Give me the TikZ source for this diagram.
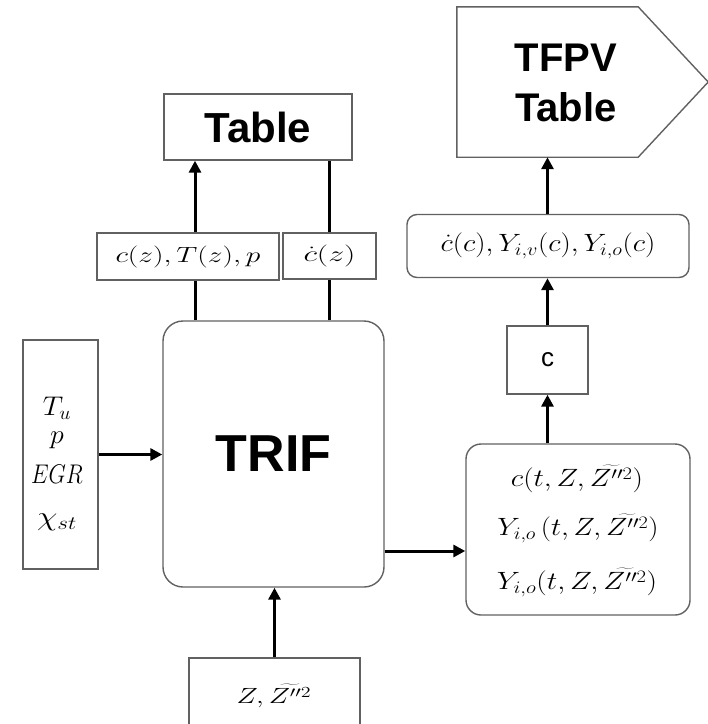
\RequirePackage{fix-cm}
\documentclass[tikz,border=0pt]{standalone}
\usepackage{fontspec}
\usepackage{graphicx}
\usetikzlibrary{arrows.meta}
\newfontfamily\hvfont{Liberation Sans}
\newcommand{\mystretch}[2][1.2]{\scalebox{#1}[1]{#2}}
\tikzset{
  bord/.style={draw=black!62, line width=1.4pt},
  box/.style={bord, rectangle, inner sep=0pt},
  rbox/.style={box, rounded corners=#1},
  arr/.style={draw=black, line width=3pt, -{Triangle[length=12pt,width=12pt]}},
  ln/.style={draw=black, line width=3pt},
  mth/.style={font=\fontsize{#1}{#1}\selectfont, inner sep=0pt},
  bigsans/.style={font=\hvfont\bfseries\fontsize{#1}{#1}\selectfont},
}
\begin{document}
\begin{tikzpicture}[x=1pt,y=-1pt]
\path[use as bounding box] (0,0) rectangle (708,724);
\clip (0,0) rectangle (708,724);

% top left table
\node[box, minimum width=188pt, minimum height=66pt, bigsans=42] (table) at (258,127) {Table};

% TFPV pentagon
\node[inner sep=0pt, minimum width=181pt, minimum height=150pt] (tfpv) at (547.5,82) {};
\draw[bord] (tfpv.north west) -- (tfpv.north east) -- ([xshift=70pt]tfpv.east) -- (tfpv.south east) -- (tfpv.south west) -- cycle;
\node[align=center, font=\hvfont\bfseries\fontsize{40}{50}\selectfont] (tfpvlbl) at (566,83) {TFPV\\Table};

% label boxes
\node[box, minimum width=182pt, minimum height=47pt, mth=22] (lab1) at (188,256.5) {\mystretch[1.34]{$c(z),T(z),p$}};
\node[box, minimum width=93pt, minimum height=46pt, mth=22] (lab2) at (329.5,256) {\mystretch[1.45]{$\dot c(z)$}};

% cdot box
\node[rbox=10pt, minimum width=282pt, minimum height=63pt, mth=25] (cdot) at (548,246) {\mystretch[1.16]{$\dot c(c),Y_{i,v}(c),Y_{i,o}(c)$}};

% c box
\node[box, minimum width=81pt, minimum height=68pt, font=\hvfont\fontsize{26}{30}\selectfont] (cbox) at (547.5,360) {c};

% TRIF
\node[rbox=20pt, minimum width=221pt, minimum height=266pt, bigsans=52] (trif) at (273.5,454) {TRIF};

% input box
\node[box, minimum width=75pt, minimum height=229pt] (inp) at (60.5,454.5) {};
\node[align=center, inner sep=0pt, font=\fontsize{27}{28}\selectfont] (inptxt) at (57,464) {\mystretch[1.06]{$T_u$}\\[0pt]\mystretch[1.03]{$p$}\\[12pt]\mystretch[0.83]{$EGR$}\\[14pt]\mystretch[1.23]{$\chi_{st}$}};

% output box
\node[rbox=15pt, minimum width=224pt, minimum height=171pt] (outbox) at (578,529.5) {};
\node[mth=25] (out1) at (577,479) {\mystretch[1.17]{$c(t,Z,\widetilde{Z''^2})$}};
\node[mth=25] (out2) at (578,528) {\mystretch[1.15]{$Y_{i,o}\,\Bigl(t,Z,\widetilde{Z''^2}\Bigr)$}};
\node[mth=25] (out3) at (577,582) {\mystretch[1.18]{$Y_{i,o}(t,Z,\widetilde{Z''^2})$}};

% bottom box
\node[box, minimum width=171pt, minimum height=90pt] (zbox) at (274.5,703) {};
\node[mth=22] (ztxt) at (274,696) {\mystretch[1.3]{$Z,\widetilde{Z''^2}$}};

% connectors
\coordinate (xa) at (195,0);
\coordinate (xb) at (329,0);
\coordinate (yr) at (0,551);
\draw[ln] (trif.north -| xa) -- (lab1.south -| xa);
\draw[arr] (lab1.north -| xa) -- (table.south -| xa);
\draw[ln] (trif.north -| xb) -- (lab2.south -| xb);
\draw[ln] (lab2.north -| xb) -- (table.south -| xb);
\draw[arr] (inp.east) -- (inp.east -| trif.west);
\draw[arr] (trif.east |- yr) -- (outbox.west |- yr);
\draw[arr] (outbox.north -| cbox.south) -- (cbox.south);
\draw[arr] (cbox.north) -- (cdot.south -| cbox.north);
\draw[arr] (cdot.north -| tfpv.south) -- (tfpv.south);
\draw[arr] (zbox.north) -- (zbox.north |- trif.south);
\end{tikzpicture}
\end{document}
